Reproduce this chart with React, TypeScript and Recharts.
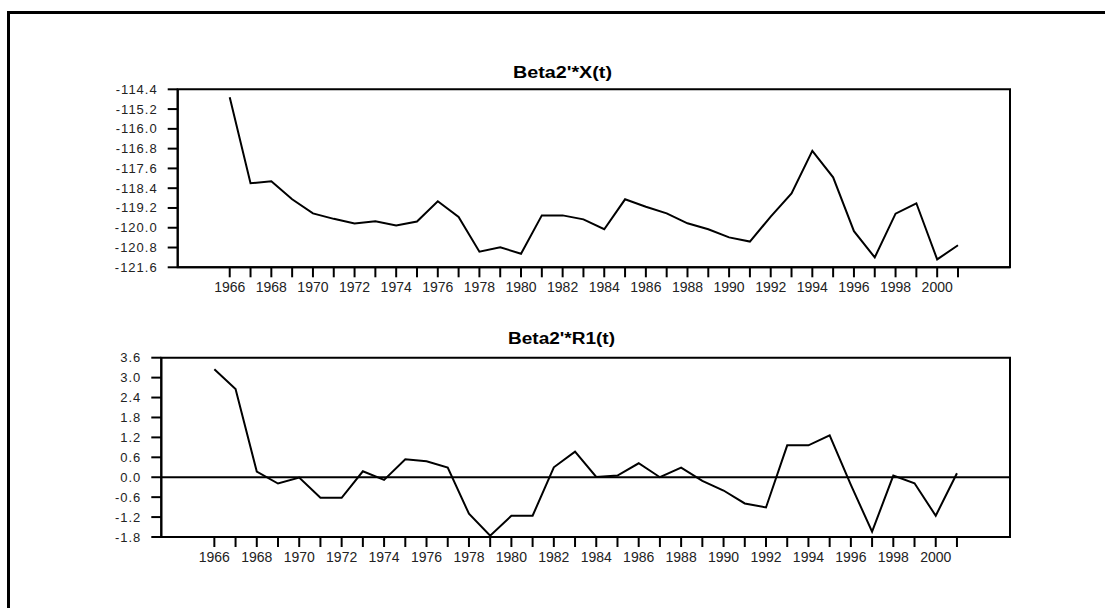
import React from "react";
import {
  LineChart,
  Line,
  XAxis,
  YAxis,
  ReferenceArea,
  ReferenceLine,
} from "recharts";

const YEARS = [
  1966, 1967, 1968, 1969, 1970, 1971, 1972, 1973, 1974, 1975, 1976, 1977,
  1978, 1979, 1980, 1981, 1982, 1983, 1984, 1985, 1986, 1987, 1988, 1989,
  1990, 1991, 1992, 1993, 1994, 1995, 1996, 1997, 1998, 1999, 2000, 2001,
];

// Beta2'*X(t)
const X_VALUES = [
  -114.72, -118.2, -118.12, -118.85, -119.42, -119.64, -119.83, -119.74,
  -119.91, -119.75, -118.93, -119.56, -120.97, -120.79, -121.05, -119.5,
  -119.5, -119.66, -120.06, -118.85, -119.15, -119.42, -119.82, -120.06,
  -120.39, -120.56, -119.55, -118.61, -116.89, -117.96, -120.14, -121.2,
  -119.43, -119.01, -121.28, -120.71,
];

// Beta2'*R1(t)
const R1_VALUES = [
  3.25, 2.66, 0.17, -0.19, -0.01, -0.62, -0.62, 0.18, -0.08, 0.54, 0.48, 0.29,
  -1.1, -1.76, -1.16, -1.16, 0.3, 0.77, 0.01, 0.05, 0.42, 0.0, 0.29, -0.11,
  -0.4, -0.79, -0.91, 0.96, 0.96, 1.26, -0.23, -1.64, 0.05, -0.18, -1.16, 0.12,
];

const X_TICKS = [
  -121.6, -120.8, -120.0, -119.2, -118.4, -117.6, -116.8, -116.0, -115.2,
  -114.4,
];
const R1_TICKS = [-1.8, -1.2, -0.6, 0.0, 0.6, 1.2, 1.8, 2.4, 3.0, 3.6];

const X_DOMAIN: [number, number] = [1963.5, 2003.5];
const FONT = "'Liberation Sans', Arial, sans-serif";

const topData = YEARS.map((year, i) => ({ year, value: X_VALUES[i] }));
const bottomData = YEARS.map((year, i) => ({ year, value: R1_VALUES[i] }));

// only even years get a label, every year gets a tick mark
// eslint-disable-next-line @typescript-eslint/no-explicit-any
const YearTick = (props: any) => {
  const { x, y, payload } = props;
  if (payload.value % 2 !== 0) return <g />;
  return (
    <text x={x} y={y + 12.5} textAnchor="middle" fontSize={14} fontFamily={FONT} fill="#222">
      {payload.value}
    </text>
  );
};

// eslint-disable-next-line @typescript-eslint/no-explicit-any
const ValueTick = (props: any) => {
  const { x, y, payload } = props;
  return (
    <text
      x={x - 8}
      y={y + 4.5}
      textAnchor="end"
      fontSize={13}
      letterSpacing={1}
      fontFamily={FONT}
      fill="#222"
    >
      {Number(payload.value).toFixed(1)}
    </text>
  );
};

interface PanelProps {
  data: { year: number; value: number }[];
  ticks: number[];
  top: number;
  marginTop: number;
  marginBottom: number;
  marginLeft: number;
  zeroLine?: boolean;
}

function Panel({ data, ticks, top, marginTop, marginBottom, marginLeft, zeroLine }: PanelProps) {
  const yMin = ticks[0];
  const yMax = ticks[ticks.length - 1];
  return (
    <div style={{ position: "absolute", left: 0, top }}>
      <LineChart
        width={1105}
        height={250}
        data={data}
        margin={{ top: marginTop, right: 95, bottom: marginBottom, left: marginLeft }}
      >
        <XAxis
          dataKey="year"
          type="number"
          domain={X_DOMAIN}
          ticks={YEARS}
          interval={0}
          allowDataOverflow
          height={30}
          tickSize={10}
          tick={<YearTick />}
          axisLine={{ stroke: "#000", strokeWidth: 2 }}
          tickLine={{ stroke: "#000", strokeWidth: 2 }}
        />
        <YAxis
          type="number"
          domain={[yMin, yMax]}
          ticks={ticks}
          interval={0}
          allowDataOverflow
          width={60}
          tickSize={10}
          tick={<ValueTick />}
          axisLine={{ stroke: "#000", strokeWidth: 2 }}
          tickLine={{ stroke: "#000", strokeWidth: 2 }}
        />
        <ReferenceArea
          x1={X_DOMAIN[0]}
          x2={X_DOMAIN[1]}
          y1={yMin}
          y2={yMax}
          fill="none"
          stroke="#000"
          strokeWidth={2}
        />
        {zeroLine && <ReferenceLine y={0} stroke="#000" strokeWidth={2} />}
        <Line
          type="linear"
          dataKey="value"
          stroke="#000"
          strokeWidth={2}
          dot={false}
          isAnimationActive={false}
        />
      </LineChart>
    </div>
  );
}

export default function App() {
  return (
    <div
      style={{
        position: "fixed",
        left: 0,
        top: 0,
        width: 1105,
        height: 608,
        background: "#fff",
        overflow: "hidden",
      }}
    >
      <div
        style={{
          position: "absolute",
          left: 7,
          top: 11,
          width: 1200,
          height: 700,
          borderLeft: "3px solid #000",
          borderTop: "3px solid #000",
        }}
      />
      <Panel
        data={topData}
        ticks={X_TICKS}
        top={60}
        marginTop={29.3}
        marginBottom={12.7}
        marginLeft={117.7}
      />
      <Panel
        data={bottomData}
        ticks={R1_TICKS}
        top={330}
        marginTop={27.7}
        marginBottom={13}
        marginLeft={101.3}
        zeroLine
      />
      <svg
        width={1105}
        height={608}
        style={{ position: "absolute", left: 0, top: 0, pointerEvents: "none" }}
      >
        <text
          x={562.5}
          y={77.5}
          textAnchor="middle"
          fontSize={16}
          fontWeight="bold"
          fontFamily={FONT}
          textLength={99}
          lengthAdjust="spacingAndGlyphs"
        >
          Beta2'*X(t)
        </text>
        <text
          x={561.5}
          y={344}
          textAnchor="middle"
          fontSize={16}
          fontWeight="bold"
          fontFamily={FONT}
          textLength={107}
          lengthAdjust="spacingAndGlyphs"
        >
          Beta2'*R1(t)
        </text>
      </svg>
    </div>
  );
}
